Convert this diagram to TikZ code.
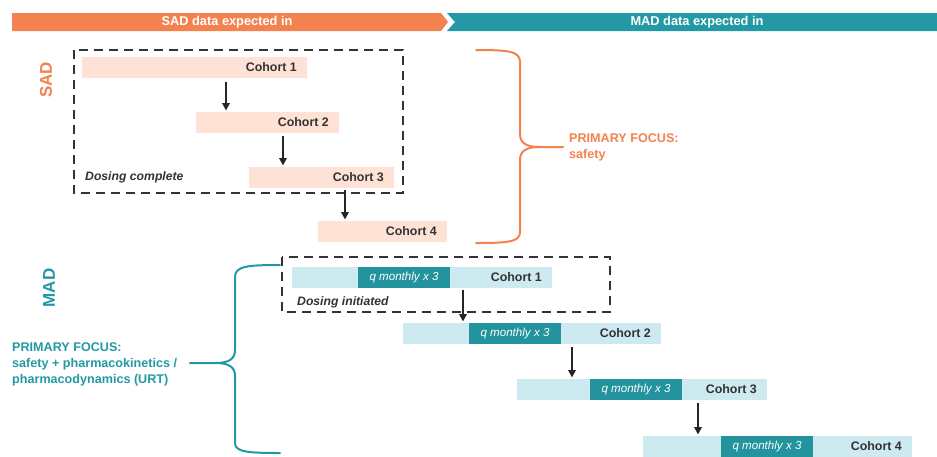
\documentclass[tikz,border=0pt]{standalone}
\usepackage{fontspec}
\setmainfont{Liberation Sans}
\usetikzlibrary{arrows.meta,calc}
\definecolor{orng}{HTML}{F4824F}
\definecolor{tealc}{HTML}{2399A5}
\definecolor{peach}{HTML}{FDE2D5}
\definecolor{lblue}{HTML}{CDEAF0}
\definecolor{dteal}{HTML}{23939D}
\definecolor{dgray}{HTML}{333333}
\begin{document}
\begin{tikzpicture}[x=1pt,y=-1pt,
  sadbar/.style={fill=peach,draw=none,inner sep=0pt,outer sep=0pt,anchor=north west,minimum height=21pt},
  madbar/.style={fill=lblue,draw=none,inner sep=0pt,outer sep=0pt,anchor=north west,minimum height=20.5pt},
  dosebox/.style={fill=dteal,draw=none,inner sep=0pt,outer sep=0pt,anchor=north west,minimum height=20.5pt,minimum width=92pt,text height=8.2pt,text depth=2.2pt,text=white,font=\fontsize{11.6}{13}\selectfont\itshape},
  ctxt/.style={inner sep=0pt,anchor=east,text=dgray,font=\fontsize{12.4}{14}\selectfont\bfseries},
  dtxt/.style={inner sep=0pt,anchor=west,text=dgray,font=\fontsize{12.2}{14}\selectfont\bfseries\itshape},
  bantxt/.style={inner sep=0pt,text=white,font=\fontsize{12.8}{14}\selectfont\bfseries},
  sidelbl/.style={inner sep=0pt,rotate=90,font=\fontsize{17}{20}\selectfont\bfseries},
  focus/.style={inner sep=0pt,anchor=west,align=left,font=\fontsize{12.6}{16}\selectfont\bfseries},
  dbox/.style={draw=dgray,line width=2.5pt,dash pattern=on 9pt off 6pt},
  arr/.style={draw=black!85,line width=1.8pt,shorten >=1.5pt,-{Triangle[length=7.5pt,width=7.5pt]}},
  brace/.style={line width=2pt,line cap=round}
]
\useasboundingbox (0,0) rectangle (937,456);
\fill[white] (0,0) rectangle (937,456);

% banner
\fill[orng] (12,13) -- (441,13) -- (448,22) -- (441,31) -- (12,31) -- cycle;
\fill[tealc] (447,13) -- (937,13) -- (937,31) -- (447,31) -- (455,22) -- cycle;
\node[bantxt] (bs) at (227,22) {SAD data expected in};
\node[bantxt] (bm) at (697,22) {MAD data expected in};

% side labels
\node[sidelbl,text=orng] (lsad) at (46,80) {SAD};
\node[sidelbl,text=tealc] (lmad) at (49,288) {MAD};

% SAD dashed box
\draw[dbox] (74,50) rectangle (403,193);

% SAD bars
\node[sadbar,minimum width=225pt] (s1) at (82,57) {};
\node[sadbar,minimum width=143pt] (s2) at (196,112) {};
\node[sadbar,minimum width=145pt] (s3) at (249,167) {};
\node[sadbar,minimum width=129pt] (s4) at (318,221) {};
\node[ctxt] (s1t) at ([xshift=-10pt]s1.east) {Cohort 1};
\node[ctxt] (s2t) at ([xshift=-10pt]s2.east) {Cohort 2};
\node[ctxt] (s3t) at ([xshift=-10pt]s3.east) {Cohort 3};
\node[ctxt] (s4t) at ([xshift=-10pt]s4.east) {Cohort 4};
\node[dtxt] (dc) at (85,177) {Dosing complete};

\coordinate (ax1) at (226,0);
\coordinate (ax2) at (283,0);
\coordinate (ax3) at (345,0);
\draw[arr] ([yshift=-4pt]s1.south -| ax1) -- (s2.north -| ax1);
\draw[arr] ([yshift=-3pt]s2.south -| ax2) -- (s3.north -| ax2);
\draw[arr] ([yshift=-2pt]s3.south -| ax3) -- (s4.north -| ax3);

% orange brace
\draw[brace,orng] (476,50) .. controls (508,50) and (520,51) .. (520,62) -- (520,134)
  .. controls (520,143) and (526,147) .. (540,147) -- (563,147);
\draw[brace,orng] (540,147) .. controls (526,147) and (520,151) .. (520,160) -- (520,232)
  .. controls (520,242) and (508,243) .. (476,243);
\node[focus,text=orng] (fs) at (569,147) {PRIMARY FOCUS:\\safety};

% MAD dashed box
\draw[dbox] (282,257) rectangle (610,312);

% MAD bars
\node[madbar,minimum width=260pt] (m1) at (292,267) {};
\node[madbar,minimum width=258pt] (m2) at (403,323) {};
\node[madbar,minimum width=250pt] (m3) at (517,379) {};
\node[madbar,minimum width=269pt] (m4) at (643,436) {};
\node[dosebox] (m1d) at (358,267) {q monthly x 3};
\node[dosebox] (m2d) at (469,323) {q monthly x 3};
\node[dosebox] (m3d) at (590,379) {q monthly x 3};
\node[dosebox] (m4d) at (721,436) {q monthly x 3};
\node[ctxt] (m1t) at ([xshift=-10pt]m1.east) {Cohort 1};
\node[ctxt] (m2t) at ([xshift=-10pt]m2.east) {Cohort 2};
\node[ctxt] (m3t) at ([xshift=-10pt]m3.east) {Cohort 3};
\node[ctxt] (m4t) at ([xshift=-10pt]m4.east) {Cohort 4};
\node[dtxt] (di) at (297,302) {Dosing initiated};

\coordinate (bx1) at (463,0);
\coordinate (bx2) at (572,0);
\coordinate (bx3) at (698,0);
\draw[arr] ([yshift=-2pt]m1.south -| bx1) -- (m2.north -| bx1);
\draw[arr] ([yshift=-3pt]m2.south -| bx2) -- (m3.north -| bx2);
\draw[arr] ([yshift=-3pt]m3.south -| bx3) -- (m4.north -| bx3);

% teal brace
\draw[brace,tealc] (280,265) .. controls (248,265) and (235,266) .. (235,277) -- (235,350)
  .. controls (235,359) and (229,363) .. (215,363) -- (190,363);
\draw[brace,tealc] (215,363) .. controls (229,363) and (235,367) .. (235,376) -- (235,443)
  .. controls (235,452) and (248,453) .. (280,453);
\node[focus,text=tealc] (fm) at (12,364) {PRIMARY FOCUS:\\safety + pharmacokinetics /\\pharmacodynamics (URT)};
\end{tikzpicture}
\end{document}
